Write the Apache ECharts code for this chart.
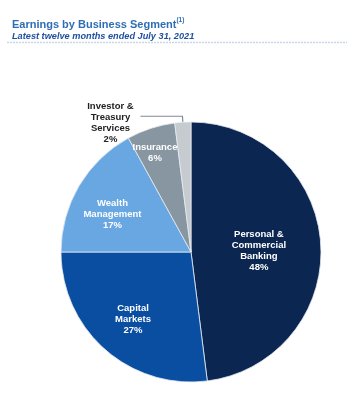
<!DOCTYPE html>
<html>
<head>
<meta charset="utf-8">
<script src="https://cdn.jsdelivr.net/npm/echarts@6/dist/echarts.min.js"></script>
<style>
  html, body { margin: 0; padding: 0; background: #ffffff; }
  #chart { width: 350px; height: 400px; }
</style>
</head>
<body>
<div id="chart"></div>
<script>
// Earnings share by business segment, clockwise from 12 o'clock
const segments = [
  'Personal &\nCommercial\nBanking',
  'Capital\nMarkets',
  'Wealth\nManagement',
  'Insurance',
  'Investor &\nTreasury\nServices'
];
const shares = [48, 27, 17, 6, 2];
const colors = ['#0b2651', '#0a4ea2', '#69a7e2', '#8796a1', '#c6cbd0'];

// Nudges for the labels so they sit in the visual centre of each wedge
const labelNudge = [
  { dx: 0, dy: 3 },
  { dx: -13, dy: 16 },
  { dx: -20, dy: -3 },
  { dx: -15, dy: -34 },
  { dx: 4, dy: 7 }
];

const chart = echarts.init(document.getElementById('chart'), null, { renderer: 'canvas' });

const pieData = segments.map((name, i) => {
  const item = { name: name, value: shares[i], itemStyle: { color: colors[i] } };
  if (i === 4) {
    item.label = {
      position: 'outside',
      color: '#222222',
      formatter: '{t|{b}\n{c}%}',
      rich: {
        t: { width: 58, align: 'center', fontSize: 9.5, fontWeight: 'bold', lineHeight: 11, color: '#222222', fontFamily: 'Liberation Sans, Arial, sans-serif' }
      }
    };
    item.labelLine = { show: true, length: 6, length2: 42, lineStyle: { color: '#7f8a94', width: 1.2 } };
  }
  return item;
});

chart.setOption({
  animation: false,
  backgroundColor: '#ffffff',
  title: [
    {
      left: 7,
      top: 12,
      text: '{m|Earnings by Business Segment}{s|(1)}',
      textStyle: {
        rich: {
          m: { fontSize: 11, fontWeight: 'bold', color: '#2f6db6', fontFamily: 'Liberation Sans, Arial, sans-serif', verticalAlign: 'bottom' },
          s: { fontSize: 6.5, fontWeight: 'bold', color: '#2f6db6', fontFamily: 'Liberation Sans, Arial, sans-serif', padding: [0, 0, 6, 0], verticalAlign: 'bottom' }
        }
      }
    },
    {
      left: 7,
      top: 27,
      text: 'Latest twelve months ended July 31, 2021',
      textStyle: { fontSize: 9.2, fontWeight: 'bold', fontStyle: 'italic', color: '#1f4f9e', fontFamily: 'Liberation Sans, Arial, sans-serif' }
    }
  ],
  graphic: [
    {
      type: 'line',
      shape: { x1: 7, y1: 42.5, x2: 347, y2: 42.5 },
      style: { stroke: '#c9d6e6', lineWidth: 1.5, lineDash: [2, 1] }
    }
  ],
  series: [
    {
      type: 'pie',
      center: [191, 252],
      radius: [0, 130],
      startAngle: 90,
      clockwise: true,
      avoidLabelOverlap: false,
      itemStyle: { borderColor: '#e6ebf0', borderWidth: 0.8 },
      label: {
        show: true,
        position: 'inside',
        formatter: '{b}\n{c}%',
        color: '#ffffff',
        fontSize: 9.5,
        fontWeight: 'bold',
        lineHeight: 11,
        fontFamily: 'Liberation Sans, Arial, sans-serif'
      },
      labelLine: { show: false },
      labelLayout: function (params) {
        return labelNudge[params.dataIndex];
      },
      emphasis: { disabled: true },
      data: pieData
    }
  ]
});
</script>
</body>
</html>
